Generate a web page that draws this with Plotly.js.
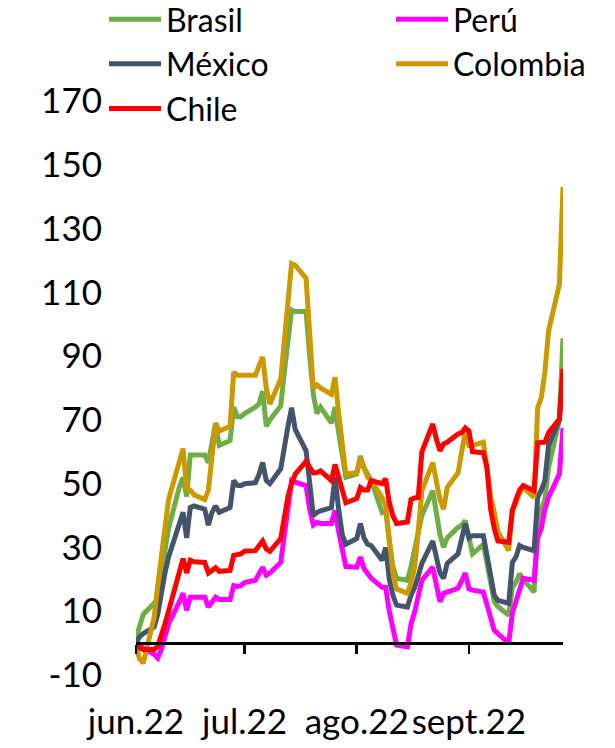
<!DOCTYPE html>
<html>
<head>
<meta charset="utf-8">
<script src="https://cdn.plot.ly/plotly-3.0.1.min.js"></script>
<style>
  html, body { margin: 0; padding: 0; background: #ffffff; }
  #chart { width: 615px; height: 748px; }
</style>
</head>
<body>
<div id="chart"></div>
<script>
// Business days (daily data), June 1 - September 27, 2022
const dates = [
  '2022-06-01','2022-06-02','2022-06-03','2022-06-06','2022-06-07','2022-06-08','2022-06-09','2022-06-10',
  '2022-06-13','2022-06-14','2022-06-15','2022-06-16','2022-06-17','2022-06-20','2022-06-21','2022-06-22',
  '2022-06-23','2022-06-24','2022-06-27','2022-06-28','2022-06-29','2022-06-30',
  '2022-07-01','2022-07-04','2022-07-05','2022-07-06','2022-07-07','2022-07-08','2022-07-11','2022-07-12',
  '2022-07-13','2022-07-14','2022-07-15','2022-07-18','2022-07-19','2022-07-20','2022-07-21','2022-07-22',
  '2022-07-25','2022-07-26','2022-07-27','2022-07-28','2022-07-29',
  '2022-08-01','2022-08-02','2022-08-03','2022-08-04','2022-08-05','2022-08-08','2022-08-09','2022-08-10',
  '2022-08-11','2022-08-12','2022-08-15','2022-08-16','2022-08-17','2022-08-18','2022-08-19','2022-08-22',
  '2022-08-23','2022-08-24','2022-08-25','2022-08-26','2022-08-29','2022-08-30','2022-08-31',
  '2022-09-01','2022-09-02','2022-09-05','2022-09-06','2022-09-07','2022-09-08','2022-09-09','2022-09-12',
  '2022-09-13','2022-09-14','2022-09-15','2022-09-16','2022-09-19','2022-09-20','2022-09-21','2022-09-22',
  '2022-09-23','2022-09-26','2022-09-27'
];

const brasil = [
  1.5, 5, 9, 12.5, 14, 22, 29, 36, 49, 52,
  46, 59, 59, 59, 56.6, 63, 69, 62, 63.5, 74,
  71, 71, 72, 74, 75, 79, 68, 70, 74.4, 85,
  96, 104.5, 104, 104, 90, 78, 72, 74, 69, 74,
  66, 59, 52, 53, 58.7, 55, 53, 51, 41, 41.6,
  32, 24, 20.3, 19.7, 24, 29, 35, 40, 47.8, 40,
  34, 30, 33, 36.3, 37, 38.4, 33, 28, 31, 25,
  19, 13, 11.5, 8.75, 17.5, 19, 21.8, 20, 16, 38.4,
  42, 45, 55, 70, 95.6
];

const peru = [
  0, -1, -1.6, -3.5, -4.7, -2, 2, 6, 13, 15.6,
  10.3, 14.4, 14.4, 14.4, 11.3, 13, 14.4, 13.7, 13.7, 18,
  17.8, 18, 19, 19.7, 21.5, 23.8, 21.3, 22, 25.3, 33,
  43, 51, 50.5, 49.4, 42, 37, 37.8, 37.5, 37.5, 41.6,
  35, 29, 24, 23.8, 27, 23.4, 21.5, 20.3, 17.5, 17.5,
  10, 4, -0.6, -1.2, 6, 9.7, 14, 19.7, 23.8, 18,
  13, 15.6, 16, 17.2, 19.5, 22, 17, 16.6, 16, 12,
  7, 4, 3, 0, 9.4, 13, 17, 20.3, 19.7, 33,
  36, 42, 45.7, 53, 67.5
];

const mexico = [
  0, 2, 3, 5, 9, 16, 22, 27, 37, 41,
  33, 42.5, 43, 42, 37, 41, 43, 41, 42.5, 51,
  49.5, 49.4, 50, 50.3, 53, 56.6, 51, 50, 54.7, 62,
  68, 73.8, 67, 60.3, 50, 40, 41, 41.5, 42.5, 52,
  42, 34, 31, 32.8, 37.5, 33, 31, 30.6, 26, 30,
  20, 15, 11.9, 11.3, 15, 17.5, 21, 25, 32, 27,
  22, 20.3, 25, 28, 33, 37.5, 33, 33.7, 33.7, 27,
  20, 15, 13.4, 12.5, 25.3, 27, 30.6, 30, 29, 45.7,
  48, 51, 62, 70, 85
];

const colombia = [
  -1, -5, -6.3, 8, 18, 27, 36, 45, 57, 61,
  48.5, 48, 46.5, 45, 48, 60, 69, 66.5, 68, 85,
  84, 84, 84, 84, 87, 89.7, 80, 75, 82.8, 95,
  108, 119, 118.5, 114.4, 97, 80, 81, 80, 78, 83.4,
  72, 62, 53, 53.4, 58, 55, 52, 51, 45.7, 43,
  33, 22, 17, 15.6, 19, 23.8, 35, 47.8, 56.6, 50,
  45, 42, 48.8, 53.4, 59, 66.5, 62, 62, 63, 54,
  46, 41, 35, 29, 41.6, 44, 47, 48.8, 45.7, 73.8,
  77, 85, 97.8, 112.5, 143
];

const chile = [
  0, -1.5, -2, -2, -1, 2, 6, 10, 22.5, 26.5,
  22, 26, 25.5, 25.3, 22, 23, 23.6, 22.5, 22.8, 27.5,
  27.8, 28, 28.8, 29, 30.5, 32, 29.5, 28.8, 32.8, 40,
  46, 50, 53, 57, 55, 53.4, 53.5, 54, 51, 56,
  52, 48, 44, 45.3, 48.8, 48, 48, 51, 50, 51.5,
  44, 40, 37.5, 38, 45, 45.5, 45.7, 60, 68.7, 64,
  60.3, 62.5, 63, 65.6, 66, 67.5, 66.5, 60, 59.7, 55,
  42, 36, 32, 31.6, 41.6, 45, 48, 49.4, 47.8, 62.8,
  62.8, 63, 66, 70.3, 86
];

const yTicks = [-10, 10, 30, 50, 70, 90, 110, 130, 150, 170];
const yTickLabels = ['-10', '10', '30', '50', '70', '90', '110', '130', '150', '170'];
const monthTicks = ['2022-06-01', '2022-07-01', '2022-08-01', '2022-09-01'];
const monthLabels = ['jun.22', 'jul.22', 'ago.22', 'sept.22'];

const FONT = 'Lato, "Open Sans", sans-serif';
const LW = 5;

function series(name, y, color, legend) {
  return {
    type: 'scatter', mode: 'lines', name: name, x: dates, y: y,
    line: { color: color, width: LW, shape: 'linear' },
    legend: legend, hoverinfo: 'x+y+name'
  };
}

const traces = [
  series('Brasil', brasil, '#70AD47', 'legend'),
  series('Perú', peru, '#FF00FF', 'legend2'),
  series('México', mexico, '#44546A', 'legend'),
  series('Colombia', colombia, '#CC9900', 'legend2'),
  series('Chile', chile, '#FF0000', 'legend')
];

// plot area spans y = 101 .. 675 px (574 px); legend top placed ~10 px above the page top
const legendBase = {
  xref: 'container', yref: 'paper',
  xanchor: 'left', yanchor: 'top', y: 1.19,
  orientation: 'v',
  bgcolor: 'rgba(0,0,0,0)', borderwidth: 0,
  font: { family: FONT, size: 32, color: '#000000' },
  itemwidth: 52, tracegroupgap: 0, traceorder: 'normal'
};

const layout = {
  width: 615, height: 748,
  margin: { l: 136, r: 52, t: 101, b: 73, autoexpand: false },
  paper_bgcolor: '#ffffff', plot_bgcolor: '#ffffff',
  font: { family: FONT, size: 35, color: '#000000' },
  showlegend: true,
  legend: Object.assign({}, legendBase, { x: 104 / 615 }),
  legend2: Object.assign({}, legendBase, { x: 391 / 615 }),
  xaxis: {
    type: 'date',
    range: ['2022-06-01', '2022-09-27'],
    anchor: 'free', position: 10 / 180,
    showline: true, linecolor: '#000000', linewidth: 2.5,
    ticks: 'outside', ticklen: 9, tickwidth: 2.5, tickcolor: '#000000',
    tickmode: 'array', tickvals: monthTicks, ticktext: monthLabels,
    tickangle: 0, automargin: false,
    ticklabelstandoff: 38,
    tickfont: { family: FONT, size: 35, color: '#000000' },
    showgrid: false, zeroline: false
  },
  yaxis: {
    range: [-10, 170], automargin: false,
    tickmode: 'array', tickvals: yTicks, ticktext: yTickLabels,
    showline: false, showgrid: false, zeroline: false, ticks: '',
    ticklabelstandoff: 33,
    tickfont: { family: FONT, size: 35, color: '#000000' }
  }
};

Plotly.newPlot('chart', traces, layout, { displayModeBar: false, staticPlot: true });
</script>
</body>
</html>
